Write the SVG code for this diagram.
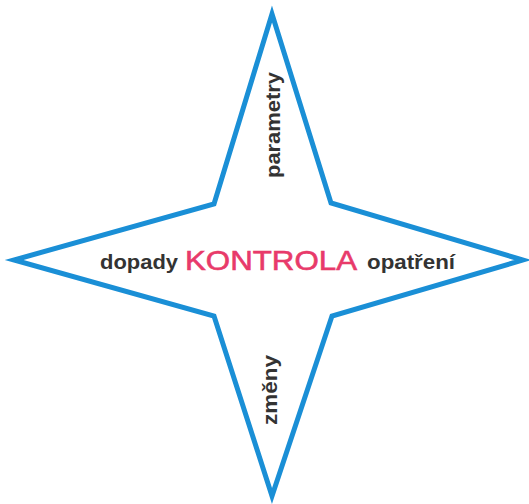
<svg xmlns="http://www.w3.org/2000/svg" width="529" height="504" viewBox="0 0 529 504">
<style>
.star{fill:#fff;stroke:#1a8fd6;stroke-width:5;stroke-linejoin:miter;stroke-miterlimit:20}
.lbl{font-family:"Liberation Sans",Arial,sans-serif;font-weight:bold;font-size:21px;fill:#333}
.main{font-family:"Liberation Sans",Arial,sans-serif;font-size:28px;fill:#e83a6a;stroke:#e83a6a;stroke-width:0.6}
</style>
<rect width="529" height="504" fill="#fff"/>
<g id="star">
<polygon class="star" points="272,14 331,203 523,260 332,316 272,496 214,316 14,260 214,204"/>
</g>
<g id="kontrola"><text class="main" x="271" y="270" text-anchor="middle" textLength="172" lengthAdjust="spacingAndGlyphs">KONTROLA</text></g>
<g id="dopady"><text class="lbl" x="139" y="269" text-anchor="middle" textLength="78" lengthAdjust="spacingAndGlyphs">dopady</text></g>
<g id="opatreni"><text class="lbl" x="411" y="269" text-anchor="middle" textLength="88" lengthAdjust="spacingAndGlyphs">opatření</text></g>
<g id="parametry"><text class="lbl" transform="translate(280,125) rotate(-90)" text-anchor="middle" textLength="106" lengthAdjust="spacingAndGlyphs">parametry</text></g>
<g id="zmeny"><text class="lbl" transform="translate(277,390) rotate(-90)" text-anchor="middle" textLength="70" lengthAdjust="spacingAndGlyphs">změny</text></g>
</svg>
